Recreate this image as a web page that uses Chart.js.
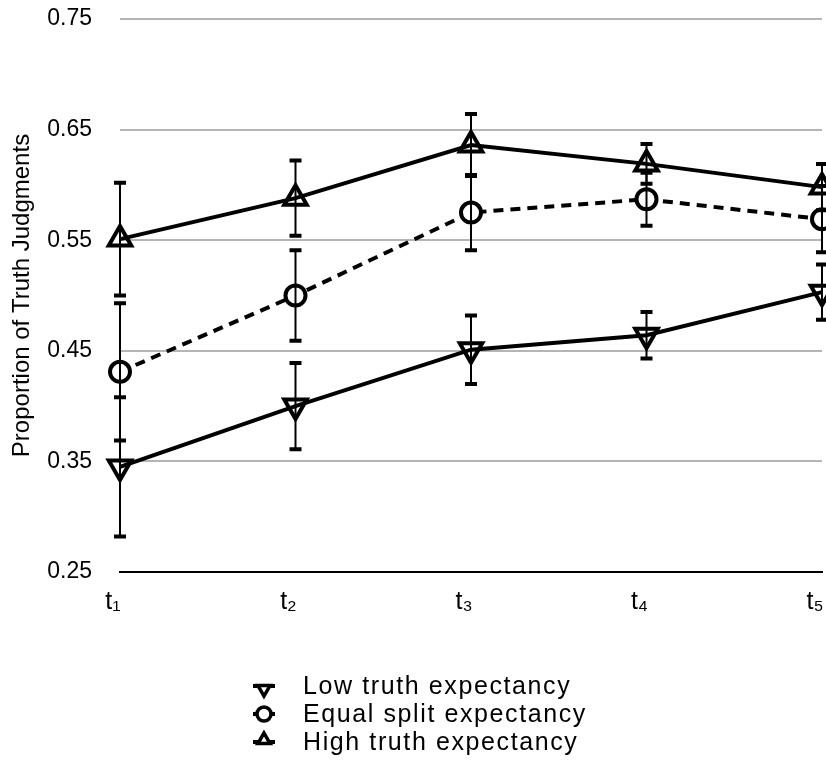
<!DOCTYPE html>
<html>
<head>
<meta charset="utf-8">
<script src="https://cdn.jsdelivr.net/npm/chart.js@4.4.1/dist/chart.umd.min.js"></script>
<style>
  html, body { margin: 0; padding: 0; background: #fff; }
</style>
</head>
<body>
<canvas id="chart" width="826" height="765"></canvas>
<script>
// values (proportion of truth judgments, +/- error)
const timeLabels = ['t₁', 't₂', 't₃', 't₄', 't₅'];
const seriesNames = ['Low truth expectancy', 'Equal split expectancy', 'High truth expectancy'];
const lowValues   = [0.345, 0.400, 0.451, 0.464, 0.503];
const lowErrors   = [0.063, 0.039, 0.031, 0.021, 0.025];
const equalValues = [0.431, 0.500, 0.575, 0.587, 0.569];
const equalErrors = [0.062, 0.041, 0.034, 0.024, 0.030];
const highValues  = [0.551, 0.588, 0.636, 0.619, 0.598];
const highErrors  = [0.051, 0.034, 0.028, 0.018, 0.021];
const yTicks = [0.25, 0.35, 0.45, 0.55, 0.65, 0.75];

const seriesErrors = [lowErrors, equalErrors, highErrors];
const FONT = '"Liberation Sans", Arial, Helvetica, sans-serif';

// vertical error bars with flat caps, drawn on top of the lines/markers
const errorBars = {
  id: 'errorBars',
  afterDatasetsDraw(chart){
    const {ctx, scales: {x, y}} = chart;
    ctx.save();
    ctx.strokeStyle = '#000';
    chart.data.datasets.forEach((ds, i) => {
      const errs = seriesErrors[i];
      ds.data.forEach((v, j) => {
        const px = x.getPixelForValue(j);
        const top = y.getPixelForValue(v + errs[j]);
        const bot = y.getPixelForValue(v - errs[j]);
        ctx.lineWidth = 2;
        ctx.beginPath(); ctx.moveTo(px, top); ctx.lineTo(px, bot); ctx.stroke();
        ctx.lineWidth = 4;
        ctx.beginPath();
        ctx.moveTo(px - 6, top); ctx.lineTo(px + 6, top);
        ctx.moveTo(px - 6, bot); ctx.lineTo(px + 6, bot);
        ctx.stroke();
      });
    });
    ctx.restore();
  }
};

// legend stacked in one left-aligned column under the axis
const stackedLegend = {
  id: 'stackedLegend',
  afterDraw(chart){
    const ctx = chart.ctx;
    const cx = 264, tx = 303;
    ctx.save();
    ctx.font = '25px ' + FONT;
    ctx.letterSpacing = '1.6px';
    ctx.textBaseline = 'middle';
    chart.data.datasets.forEach((ds, i) => {
      const cy = 686 + i * 28;
      const rot = ds.pointRotation || 0;
      const dy = ds.pointStyle === 'triangle' ? (rot ? 3 : -2) : 0;
      ctx.setLineDash([]);
      ctx.strokeStyle = '#000';
      ctx.lineWidth = 4;
      ctx.beginPath(); ctx.moveTo(cx - 11, cy); ctx.lineTo(cx + 11, cy); ctx.stroke();
      ctx.fillStyle = '#fff';
      ctx.lineWidth = 3.5;
      Chart.helpers.drawPoint(ctx, {pointStyle: ds.pointStyle, rotation: rot, radius: 7, borderWidth: 3.5}, cx, cy + dy);
      ctx.fillStyle = '#000';
      ctx.fillText(ds.label, tx, cy + 1);
    });
    ctx.restore();
  }
};

const ctx = document.getElementById('chart').getContext('2d');
new Chart(ctx, {
  type: 'line',
  data: {
    labels: timeLabels,
    datasets: [
      { label: seriesNames[0], data: lowValues, borderColor: '#000', borderWidth: 4,
        pointStyle: 'triangle', pointRotation: 180, pointRadius: 13, pointBorderWidth: 4,
        pointBorderColor: '#000', pointBackgroundColor: 'rgba(0,0,0,0)', clip: false, tension: 0 },
      { label: seriesNames[1], data: equalValues, borderColor: '#000', borderWidth: 4, borderDash: [10, 7],
        pointStyle: 'circle', pointRadius: 10, pointBorderWidth: 4,
        pointBorderColor: '#000', pointBackgroundColor: '#fff', clip: false, tension: 0 },
      { label: seriesNames[2], data: highValues, borderColor: '#000', borderWidth: 4,
        pointStyle: 'triangle', pointRadius: 13, pointBorderWidth: 4,
        pointBorderColor: '#000', pointBackgroundColor: 'rgba(0,0,0,0)', clip: false, tension: 0 }
    ]
  },
  options: {
    responsive: false,
    animation: false,
    // no auto padding: the t5 markers are cut by the right edge in the original
    layout: { autoPadding: false, padding: { top: 0, right: 0, bottom: 133, left: 0 } },
    plugins: { legend: { display: false }, tooltip: { enabled: false } },
    scales: {
      x: {
        grid: { color: 'rgba(0,0,0,0)', drawTicks: false },
        border: { display: true, color: '#000', width: 2 },
        ticks: { color: '#000', padding: 15, labelOffset: -7, maxRotation: 0, autoSkip: false, font: { family: FONT, size: 25 } },
        afterFit: scale => { scale.paddingLeft = 0; scale.paddingRight = 4; }
      },
      y: {
        min: 0.25, max: 0.75,
        afterBuildTicks: scale => { scale.ticks = yTicks.map(v => ({ value: v })); },
        afterFit: scale => { scale.width = 120; scale.paddingTop = 19; scale.paddingBottom = 0; },
        grid: { color: '#b5b5b5', lineWidth: 2, drawTicks: false },
        border: { display: false },
        ticks: { color: '#000', padding: 28, callback: v => Number(v).toFixed(2), font: { family: FONT, size: 23 } },
        title: { display: true, text: 'Proportion of Truth Judgments', color: '#000',
                 font: { family: FONT, size: 24 }, padding: { top: 8, bottom: 0 } }
      }
    }
  },
  plugins: [errorBars, stackedLegend]
});
</script>
</body>
</html>
